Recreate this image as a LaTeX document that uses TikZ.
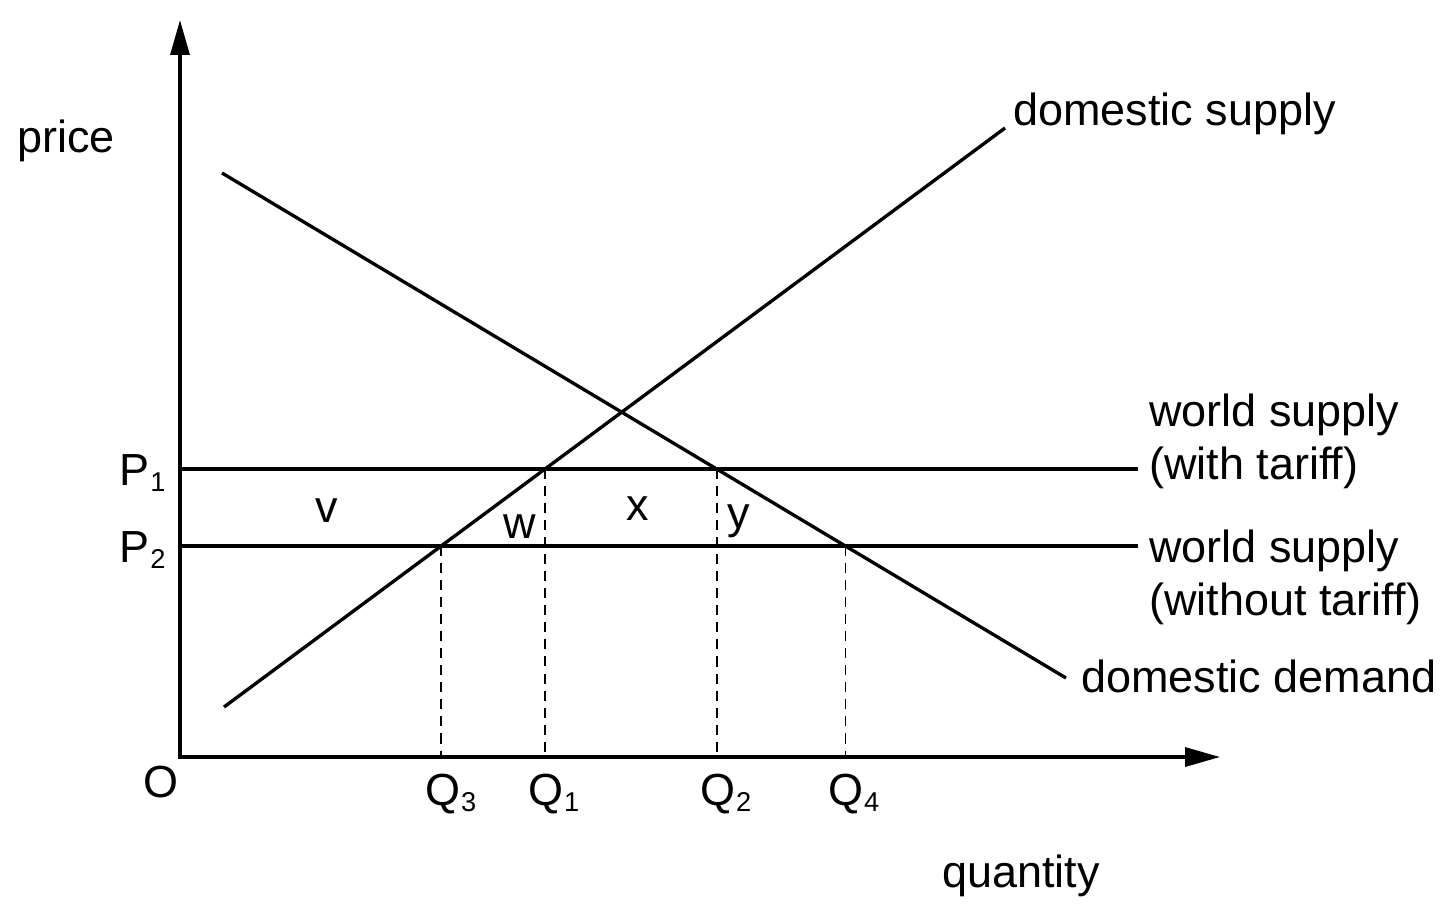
\documentclass[tikz,border=0pt]{standalone}
\usepackage{fontspec}
\setmainfont{Liberation Sans}
\usetikzlibrary{arrows.meta}
\usetikzlibrary{intersections}
\newcommand{\lowsub}[1]{\kern0.02em\raisebox{-0.15em}{\fontsize{15.5}{15.5}\selectfont #1}}

\begin{document}
\begin{tikzpicture}[x=0.02cm, y=-0.02cm,
    axis/.style={line width=1.9pt, {Triangle[length=19.9pt, width=10.8pt]}-{Triangle[length=19.9pt, width=10.8pt]}},
    curve/.style={line width=1.9pt},
    drop line/.style={line width=1pt, dash pattern=on 5.7pt off 4pt},
    label/.style={inner sep=0pt, anchor=base west, font=\fontsize{25.6}{30}\selectfont}]
      \useasboundingbox (0,0) rectangle (1456,914);
      \coordinate (O) at (180,757);
      \coordinate (ytip) at (180,20);
      \coordinate (xtip) at (1220,757);
      \draw[axis] (ytip) -- (O) -- (xtip);

      % world supply lines
      \coordinate (P1) at (180,469);
      \coordinate (P2) at (180,546);
      \draw[curve, name path=wt] (P1) -- (1138,469) coordinate (wt end);
      \draw[curve, name path=wn] (P2) -- (1138,546) coordinate (wn end);

      % domestic curves
      \draw[curve, name path=supply] (224,707) -- (1005,128) coordinate (s end);
      \draw[curve, name path=demand] (222,173) -- (1066,678) coordinate (d end);

      \path[name intersections={of=supply and wt, by={A1}}];
      \path[name intersections={of=demand and wt, by={A2}}];
      \path[name intersections={of=supply and wn, by={A3}}];
      \path[name intersections={of=demand and wn, by={A4}}];
      \draw[drop line] (A1) -- (A1 |- O);
      \draw[drop line] (A2) -- (A2 |- O);
      \draw[drop line] (A3) -- (A3 |- O);
      \draw[drop line] (A4) -- (A4 |- O);

      \node[label] (price) at (17,152) {price};
      \node[label] (quantity) at (942,887) {quantity};
      \node[label, anchor=base] (origin) at (161,797) {O};
      \node[label] (p1 label) at (119,485) {P\lowsub{1}};
      \node[label] (p2 label) at (119,562) {P\lowsub{2}};
      \node[label] (q3 label) at (425,805) {Q\lowsub{3}};
      \node[label] (q1 label) at (528,805) {Q\lowsub{1}};
      \node[label] (q2 label) at (700,805) {Q\lowsub{2}};
      \node[label] (q4 label) at (828,805) {Q\lowsub{4}};

      \node[label] (s label) at (1013,125) {domestic supply};
      \node[label] (d label) at (1081,692) {domestic demand};
      \node[label, anchor=west, align=left] (wt label) at (1149,441) {world supply\\(with tariff)};
      \node[label, anchor=west, align=left] (wn label) at (1149,577) {world supply\\(without tariff)};

      \node[label, anchor=base] (v) at (327,522) {v};
      \node[label, anchor=base] (w) at (520,538) {w};
      \node[label, anchor=base] (x) at (638,520) {x};
      \node[label, anchor=base] (y) at (739,528) {y};
\end{tikzpicture}
\end{document}
